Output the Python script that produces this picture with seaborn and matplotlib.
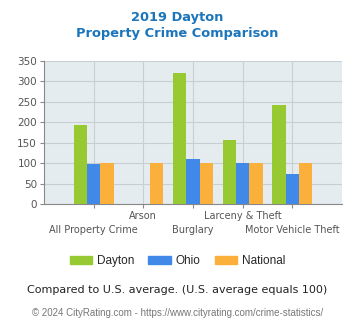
import matplotlib
matplotlib.use("Agg")
import matplotlib.pyplot as plt
import seaborn as sns
import pandas as pd
import numpy as np

categories = ["All Property Crime", "Arson", "Burglary", "Larceny & Theft", "Motor Vehicle Theft"]
dayton = [193, np.nan, 320, 156, 242]
ohio = [98, np.nan, 110, 100, 73]
national = [100, 100, 100, 100, 100]
series = ["Dayton", "Ohio", "National"]
colors = ["#97c933", "#4189e8", "#fbb03b"]
yticks = [0, 50, 100, 150, 200, 250, 300, 350]

rows = []
for name, vals in zip(series, [dayton, ohio, national]):
    for c, v in zip(categories, vals):
        rows.append({"category": c, "series": name, "value": v})
df = pd.DataFrame(rows)

sns.set_theme(style="white")
plt.rcParams['font.family'] = ['DejaVu Sans']

fig = plt.figure(figsize=(3.55, 3.3), dpi=100)
ax = fig.add_axes([44/355, 1 - 204/330, (342-44)/355, (204-61)/330])
ax.set_facecolor("#e4ecef")

sns.barplot(data=df, x="category", y="value", hue="series", hue_order=series,
            order=categories, palette=colors, ax=ax, width=0.8, saturation=1,
            legend=False, zorder=3, linewidth=0, edgecolor="none")

ax.set_xlim(-1, 5)
ax.set_ylim(0, 350)
ax.set_yticks(yticks)
ax.set_yticklabels([str(t) for t in yticks], fontsize=7.5, color="#555555")
ax.set_xticks(range(len(categories)))
ax.set_xticklabels([])
ax.grid(True, color="#c8cfd2", linewidth=0.8, zorder=0)
ax.set_axisbelow(True)
ax.set_xlabel("")
ax.set_ylabel("")
for s in ["top", "right"]:
    ax.spines[s].set_visible(False)
for s in ["left", "bottom"]:
    ax.spines[s].set_color("#888888")
    ax.spines[s].set_linewidth(0.8)
ax.tick_params(axis="both", length=3, color="#888888", width=0.8, pad=2, left=True, bottom=True)

for i, c in enumerate(categories):
    y = -0.085 if i % 2 == 1 else -0.185
    ax.text(i, y, c, transform=ax.get_xaxis_transform(), ha="center", va="center",
            fontsize=7.0, color="#555555")

fig.text(0.5, 1 - 17/330, "2019 Dayton", ha="center", va="center", fontsize=9.4,
         fontweight="bold", color="#1a75bb")
fig.text(0.5, 1 - 34/330, "Property Crime Comparison", ha="center", va="center",
         fontsize=9.4, fontweight="bold", color="#1a75bb")

handles = [plt.Rectangle((0, 0), 1, 1, color=col) for col in colors]
fig.legend(handles, series, loc="center", bbox_to_anchor=(0.5, 1 - 261/330), ncol=3,
           frameon=False, prop={"family": "Liberation Sans", "size": 8.5},
           handlelength=1.9, handleheight=0.75,
           columnspacing=1.2, handletextpad=0.4)

fig.text(0.5, 1 - 290/330, "Compared to U.S. average. (U.S. average equals 100)",
         ha="center", va="center", fontsize=8, color="#222222")
fig.text(0.5, 1 - 313/330, "© 2024 CityRating.com - https://www.cityrating.com/crime-statistics/",
         ha="center", va="center", fontsize=7.0, color="#777777", family="Liberation Sans")

fig.savefig("out.png", dpi=100)
